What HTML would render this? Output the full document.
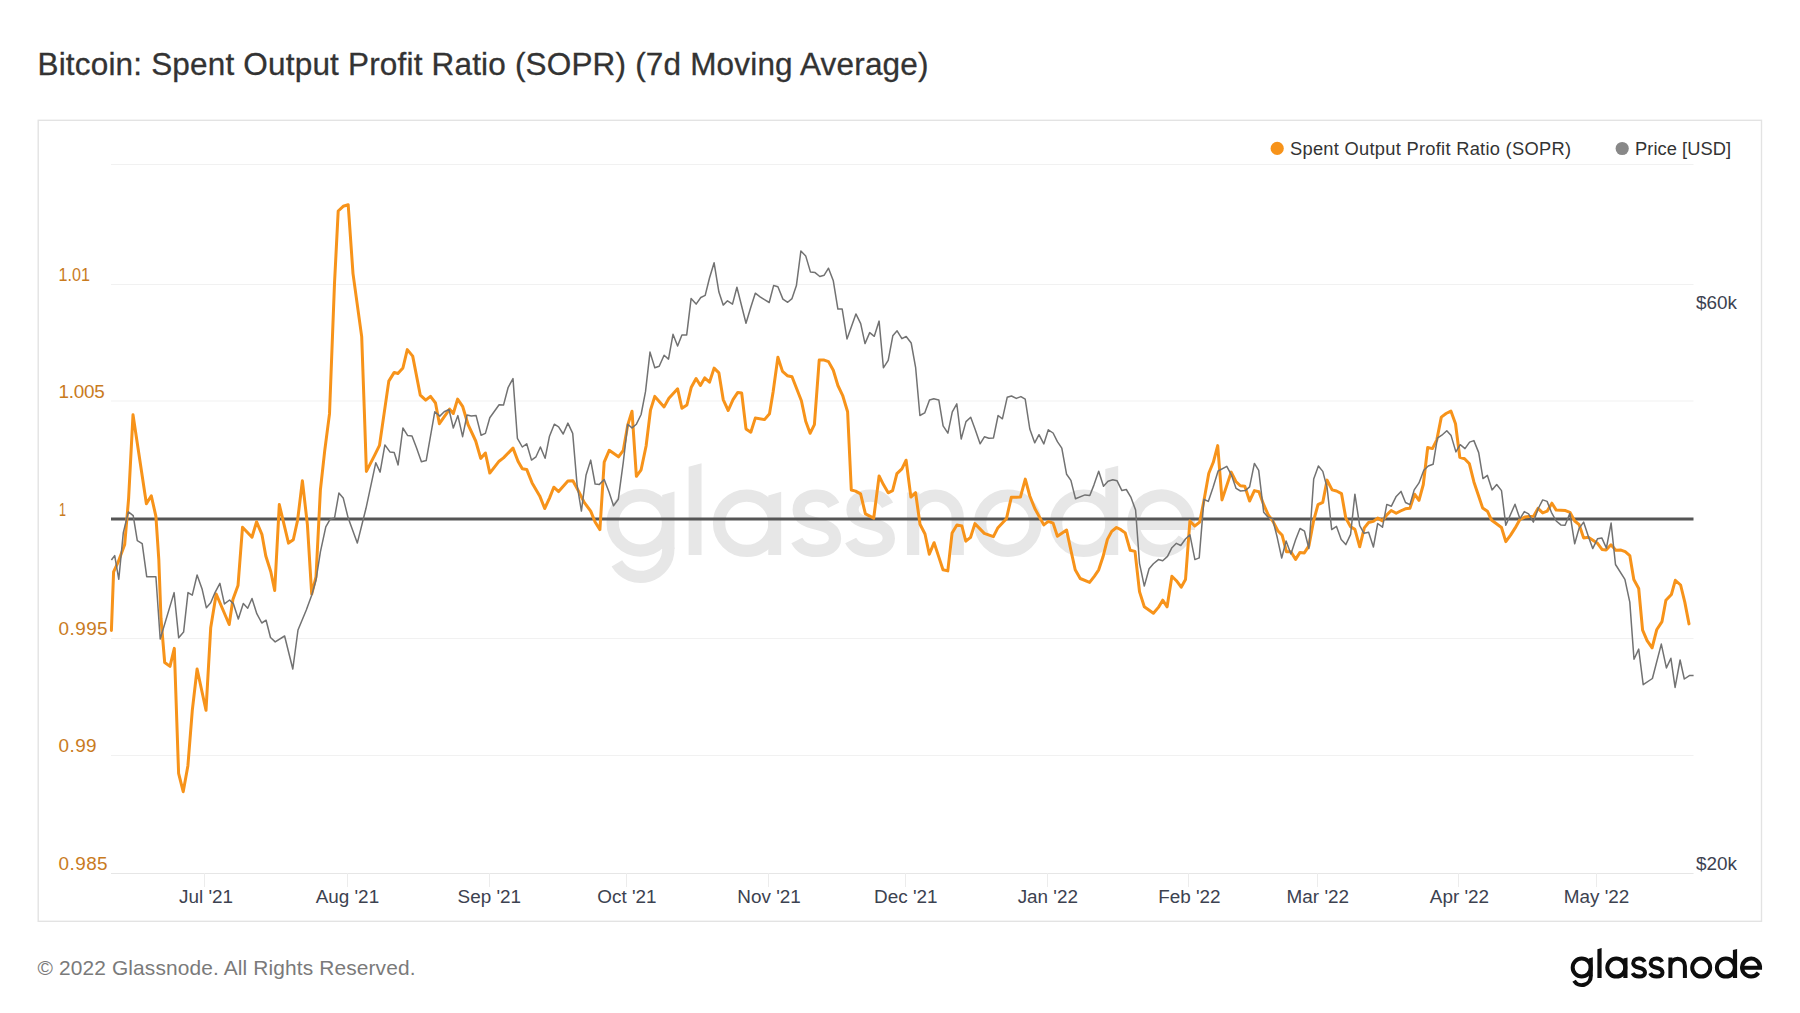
<!DOCTYPE html>
<html><head><meta charset="utf-8">
<style>
html,body{margin:0;padding:0;background:#fff;}
body{width:1800px;height:1013px;overflow:hidden;position:relative;font-family:"Liberation Sans",sans-serif;}
svg{position:absolute;left:0;top:0;}
text{font-family:"Liberation Sans",sans-serif;}
</style></head>
<body>
<svg width="1800" height="1013" viewBox="0 0 1800 1013">
<defs>
<g id="logoall"><g id="logo" fill="none" stroke="currentColor" stroke-width="4.0">
<circle cx="1581.7" cy="967.5" r="9"/>
<path d="M1590.8 975.5 L1590.8 975.9 A9 9 0 0 1 1574.07 980.67"/>
<circle cx="1616.3" cy="967.6" r="9"/>
<circle cx="1701.2" cy="967.6" r="9"/>
<circle cx="1725.9" cy="967.6" r="9"/>
<path d="M1644.6 961.8 C1643.5 959.6 1641.5 958.6 1639 958.6 C1635.6 958.6 1633.2 960.4 1633.2 963.2 C1633.2 966.2 1636 967 1639.2 967.8 C1642.6 968.6 1645 969.6 1645 972.6 C1645 975.2 1642.5 976.6 1639 976.6 C1636 976.6 1633.7 975.4 1632.6 973.2"/>
<path transform="translate(17.5 0)" d="M1644.6 961.8 C1643.5 959.6 1641.5 958.6 1639 958.6 C1635.6 958.6 1633.2 960.4 1633.2 963.2 C1633.2 966.2 1636 967 1639.2 967.8 C1642.6 968.6 1645 969.6 1645 972.6 C1645 975.2 1642.5 976.6 1639 976.6 C1636 976.6 1633.7 975.4 1632.6 973.2"/>
<path d="M1670.4 957.6 L1670.4 977.9 M1670.4 965.9 A7.25 7.25 0 0 1 1684.9 965.9 L1684.9 977.9"/>
<path d="M1742.1 967.8 L1762.05 967.8 M1760.05 967.7 A9 9 0 1 0 1758.42 972.76"/>
</g><g fill="currentColor"><path d="M1588.8 958.4 L1592.8 957.3 L1592.8 976 L1588.8 976 Z"/>
<path d="M1597.4 949.2 L1601.6 948.1 L1601.6 977.9 L1597.4 977.9 Z"/>
<path d="M1623.3 958.6 L1627.5 957.4 L1627.5 977.9 L1623.3 977.9 Z"/>
<path d="M1732.9 950 L1737.1 948.9 L1737.1 977.9 L1732.9 977.9 Z"/></g></g>
</defs>
<rect x="0" y="0" width="1800" height="1013" fill="#fff"/>
<text x="37.5" y="74.7" font-size="31.5" fill="#333" stroke="#333" stroke-width="0.3" textLength="891" lengthAdjust="spacing">Bitcoin: Spent Output Profit Ratio (SOPR) (7d Moving Average)</text>
<rect x="38.2" y="120.3" width="1723.3" height="801" fill="#fff" stroke="#e3e3e3" stroke-width="1.4"/>
<g stroke="#f1f1f1" stroke-width="1">
<line x1="111" y1="164.5" x2="1693.5" y2="164.5"/>
<line x1="111" y1="284.5" x2="1693.5" y2="284.5"/>
<line x1="111" y1="401" x2="1693.5" y2="401"/>
<line x1="111" y1="638.5" x2="1693.5" y2="638.5"/>
<line x1="111" y1="755.5" x2="1693.5" y2="755.5"/>
</g>
<line x1="111" y1="873.5" x2="1693.5" y2="873.5" stroke="#e6e6e6" stroke-width="1.2"/>
<g stroke="#ececec" stroke-width="1">
<line x1="204.5" y1="873" x2="204.5" y2="887"/>
<line x1="347.5" y1="873" x2="347.5" y2="887"/>
<line x1="489.5" y1="873" x2="489.5" y2="887"/>
<line x1="626.5" y1="873" x2="626.5" y2="887"/>
<line x1="768.5" y1="873" x2="768.5" y2="887"/>
<line x1="905.5" y1="873" x2="905.5" y2="887"/>
<line x1="1047.5" y1="873" x2="1047.5" y2="887"/>
<line x1="1188.5" y1="873" x2="1188.5" y2="887"/>
<line x1="1317.5" y1="873" x2="1317.5" y2="887"/>
<line x1="1458.5" y1="873" x2="1458.5" y2="887"/>
<line x1="1596.5" y1="873" x2="1596.5" y2="887"/>
</g>
<use href="#logoall" color="#e7e7e7" transform="translate(-4223.378 -2452.162) scale(3.075)"/>
<g font-size="18.9" fill="#c97b1e">
<text x="58.6" y="281" textLength="31.5" lengthAdjust="spacingAndGlyphs">1.01</text>
<text x="58.6" y="398" textLength="46.2" lengthAdjust="spacing">1.005</text>
<text x="59" y="515.9" textLength="7" lengthAdjust="spacingAndGlyphs">1</text>
<text x="58.6" y="635" textLength="49" lengthAdjust="spacing">0.995</text>
<text x="58.6" y="752" textLength="38" lengthAdjust="spacing">0.99</text>
<text x="58.6" y="870" textLength="49" lengthAdjust="spacing">0.985</text>
</g>
<g font-size="18.9" fill="#3c4250">
<text x="1696" y="309">$60k</text>
<text x="1696" y="870">$20k</text>
</g>
<g font-size="18.9" fill="#3c4250" text-anchor="middle">
<text x="206" y="903">Jul '21</text>
<text x="347.4" y="903">Aug '21</text>
<text x="489.3" y="903">Sep '21</text>
<text x="627" y="903">Oct '21</text>
<text x="769.1" y="903">Nov '21</text>
<text x="905.8" y="903">Dec '21</text>
<text x="1047.8" y="903">Jan '22</text>
<text x="1189.4" y="903">Feb '22</text>
<text x="1317.8" y="903">Mar '22</text>
<text x="1459.5" y="903">Apr '22</text>
<text x="1596.5" y="903">May '22</text>
</g>
<circle cx="1277.2" cy="148.4" r="6.6" fill="#f7931a"/>
<text x="1290" y="154.7" font-size="18.3" fill="#333" textLength="281" lengthAdjust="spacing">Spent Output Profit Ratio (SOPR)</text>
<circle cx="1622.2" cy="148.5" r="6.6" fill="#888"/>
<text x="1635" y="154.7" font-size="18.3" fill="#333" textLength="96" lengthAdjust="spacing">Price [USD]</text>
<line x1="111" y1="519" x2="1693.5" y2="519" stroke="#555" stroke-width="3"/>
<g id="lines">
<path d="M111.4 630.4 L113.6 571.9 L118.1 562.2 L124.7 544.4 L128.6 498.7 L133.0 414.8 L146.4 503.7 L151.3 495.8 L155.9 516.3 L158.8 559.3 L161.0 618.5 L164.7 662.5 L170.0 666.4 L174.3 648.4 L178.6 773.3 L183.2 791.7 L187.9 765.7 L192.3 710.3 L197.1 669.0 L206.0 710.3 L210.7 627.8 L216.2 594.0 L229.2 624.5 L232.9 599.5 L238.0 585.6 L242.5 527.3 L252.0 537.2 L256.6 521.8 L261.9 534.3 L265.8 556.0 L270.8 571.8 L274.7 590.5 L279.3 504.6 L288.5 543.1 L293.3 539.8 L297.6 520.3 L302.4 480.8 L307.4 524.6 L311.7 594.1 L316.0 576.8 L320.4 489.9 L324.7 450.8 L329.5 413.9 L334.5 283.4 L338.2 211.0 L343.2 206.3 L348.2 204.8 L353.0 273.6 L361.7 336.6 L364.3 410.0 L366.4 471.4 L374.7 455.1 L379.5 445.4 L388.8 381.1 L394.2 372.4 L397.9 373.5 L402.9 368.0 L407.3 349.6 L412.7 356.1 L420.3 395.2 L425.7 400.2 L430.5 396.3 L435.5 403.0 L439.4 423.7 L449.6 409.1 L453.3 413.5 L457.6 399.1 L462.6 406.3 L468.1 424.7 L475.7 441.0 L480.7 458.4 L485.4 453.0 L489.8 473.1 L499.1 461.2 L503.5 457.9 L513.0 448.1 L518.0 461.2 L522.3 468.8 L526.7 469.4 L532.1 482.9 L539.7 495.9 L544.7 508.5 L549.5 498.1 L553.8 487.2 L558.6 491.6 L567.9 481.1 L572.9 480.7 L578.8 491.6 L584.2 502.4 L590.7 511.1 L595.1 522.0 L599.9 529.6 L604.2 462.2 L609.2 450.3 L618.5 456.8 L623.3 450.3 L627.7 425.3 L632.0 411.2 L636.4 476.3 L641.1 469.8 L646.1 446.0 L650.5 410.1 L654.8 396.4 L664.1 406.9 L668.9 398.2 L677.6 388.8 L681.9 408.3 L686.9 405.0 L691.3 387.2 L696.1 378.5 L700.4 385.5 L704.7 377.9 L709.5 382.2 L714.1 368.1 L718.9 372.9 L723.2 399.6 L728.2 410.5 L733.0 399.6 L737.8 392.4 L741.7 393.1 L746.0 428.9 L750.8 432.2 L755.3 418.1 L764.5 419.6 L769.5 413.7 L773.1 392.0 L777.9 357.3 L782.5 371.4 L787.3 375.7 L792.0 376.8 L801.4 400.7 L805.7 421.3 L810.1 433.3 L814.4 424.6 L819.2 360.1 L824.2 360.1 L828.5 361.6 L833.3 370.3 L837.9 385.5 L842.6 395.3 L847.6 411.8 L851.3 490.0 L855.6 491.1 L860.6 493.9 L865.4 513.9 L873.7 518.2 L879.1 475.9 L883.4 484.6 L888.2 492.8 L892.6 490.7 L896.9 473.7 L901.9 468.9 L906.1 460.2 L910.9 497.1 L915.6 492.7 L920.0 524.2 L925.0 534.0 L929.3 554.2 L934.1 542.7 L939.1 557.9 L943.0 569.8 L947.8 570.9 L952.1 532.9 L956.9 524.9 L961.9 526.0 L965.8 541.2 L970.6 537.3 L974.9 523.6 L984.3 533.4 L993.4 536.6 L997.7 528.1 L1006.4 518.8 L1011.3 497.3 L1020.4 497.1 L1025.3 479.1 L1029.8 496.0 L1034.8 508.5 L1043.8 524.9 L1048.3 521.4 L1053.1 523.1 L1057.4 536.2 L1066.6 530.1 L1070.9 550.3 L1075.2 569.8 L1080.2 578.5 L1089.6 582.4 L1094.3 576.3 L1098.7 569.8 L1103.0 556.8 L1107.4 539.4 L1111.7 531.4 L1116.5 527.5 L1120.8 529.7 L1125.2 532.9 L1130.2 550.3 L1135.0 551.4 L1139.5 591.6 L1144.3 606.8 L1153.4 613.3 L1158.4 607.4 L1162.7 600.2 L1167.1 606.8 L1171.9 576.3 L1176.4 580.7 L1181.2 587.2 L1185.5 579.6 L1189.9 521.0 L1194.7 526.0 L1199.7 522.1 L1204.0 500.3 L1208.8 473.2 L1213.3 462.3 L1217.7 445.6 L1222.0 499.9 L1231.2 472.1 L1235.9 481.5 L1240.3 485.8 L1244.8 486.2 L1249.6 501.0 L1254.4 490.6 L1258.9 491.7 L1263.7 504.7 L1268.1 514.5 L1273.1 521.6 L1277.8 530.7 L1282.2 535.3 L1286.5 551.8 L1290.9 551.8 L1295.6 559.4 L1300.0 552.4 L1304.3 552.9 L1308.9 545.9 L1313.7 520.3 L1318.0 504.7 L1322.8 502.3 L1327.1 480.1 L1332.1 489.9 L1336.5 491.0 L1341.5 493.6 L1345.8 518.1 L1350.6 526.8 L1354.9 529.4 L1359.7 546.8 L1364.3 527.9 L1368.6 522.5 L1373.4 521.4 L1377.7 518.1 L1382.5 520.9 L1386.8 514.9 L1391.2 510.5 L1396.2 513.3 L1400.5 511.0 L1405.3 508.8 L1409.9 508.3 L1414.6 494.2 L1419.0 500.3 L1423.3 484.5 L1427.7 447.5 L1432.4 448.6 L1436.8 439.9 L1441.3 417.1 L1446.1 413.5 L1450.9 411.1 L1455.5 423.7 L1459.8 457.3 L1464.6 458.8 L1469.4 463.8 L1473.9 481.9 L1478.3 494.9 L1482.6 507.9 L1487.4 511.2 L1491.7 520.3 L1496.5 523.8 L1501.5 527.5 L1505.8 541.6 L1510.6 535.1 L1515.2 527.9 L1519.9 519.5 L1524.7 517.1 L1529.1 516.6 L1533.6 516.2 L1538.0 508.4 L1542.7 512.9 L1547.1 511.2 L1551.9 503.2 L1556.2 510.1 L1565.5 510.6 L1569.9 512.3 L1574.7 521.0 L1579.2 524.7 L1583.6 537.9 L1588.3 537.3 L1597.5 543.3 L1602.0 549.4 L1606.1 550.0 L1611.0 544.8 L1615.8 550.3 L1621.0 550.1 L1625.2 551.7 L1629.8 555.6 L1633.8 579.5 L1638.7 588.5 L1642.6 630.2 L1647.1 640.7 L1652.1 647.8 L1656.7 629.8 L1662.0 621.6 L1665.9 600.3 L1671.4 594.5 L1675.3 580.3 L1680.6 585.0 L1684.8 602.1 L1689.0 623.9" fill="none" stroke="#f7931a" stroke-width="3" stroke-linejoin="round" stroke-linecap="round"/>
<path d="M111.4 560.0 L114.7 555.6 L118.8 579.3 L123.3 532.6 L128.4 511.9 L133.2 515.6 L137.3 540.7 L142.2 543.7 L146.7 576.7 L155.9 576.7 L160.2 639.0 L174.1 592.6 L178.7 637.8 L183.6 632.1 L188.0 592.6 L192.3 595.2 L197.1 575.0 L202.0 588.7 L206.4 607.8 L210.7 602.8 L215.0 592.6 L219.9 583.3 L224.4 603.9 L229.6 600.0 L233.5 603.9 L238.3 619.1 L243.3 603.5 L247.7 608.2 L252.0 598.5 L256.8 613.7 L261.8 623.0 L266.1 620.2 L270.5 637.5 L275.2 641.9 L284.6 636.0 L292.8 669.0 L298.0 630.0 L306.3 610.0 L311.7 595.2 L316.0 580.0 L320.4 551.8 L325.8 526.8 L330.2 519.2 L334.5 518.1 L338.9 493.1 L343.2 497.9 L348.2 518.1 L357.3 543.1 L366.0 508.3 L375.8 462.7 L380.1 472.1 L384.9 444.9 L389.9 451.9 L394.2 452.5 L398.1 464.9 L402.9 428.0 L407.7 435.6 L412.0 436.0 L416.4 447.5 L421.4 461.7 L426.2 460.6 L434.8 411.7 L439.8 416.1 L444.2 411.7 L449.0 409.5 L453.3 428.0 L457.9 415.6 L462.6 436.7 L467.0 415.0 L471.3 416.1 L476.1 415.6 L481.1 435.2 L485.4 433.4 L489.8 417.7 L499.1 404.7 L503.5 405.1 L508.2 387.3 L513.0 378.6 L517.4 438.3 L522.3 447.0 L526.7 443.8 L531.5 460.1 L536.0 456.8 L540.4 447.0 L545.1 458.3 L549.5 436.2 L554.3 424.2 L558.6 426.8 L563.2 434.0 L567.9 423.1 L572.7 433.4 L577.1 485.0 L581.4 511.1 L586.0 475.3 L590.7 460.1 L595.1 484.0 L599.4 484.4 L604.2 479.6 L609.2 492.6 L613.5 505.7 L618.3 499.2 L623.3 462.2 L627.7 424.2 L632.0 427.9 L636.4 424.2 L641.1 414.5 L645.5 391.7 L650.0 352.1 L654.8 367.8 L659.2 366.3 L664.1 355.2 L668.5 359.1 L673.0 334.3 L677.6 346.0 L681.9 334.9 L686.7 334.9 L691.1 298.6 L696.1 304.1 L700.8 297.5 L705.2 295.4 L709.5 278.0 L714.1 262.8 L718.9 292.1 L723.2 305.1 L727.5 300.8 L732.5 304.1 L736.9 287.3 L741.7 306.2 L746.0 323.2 L750.8 307.3 L755.3 293.2 L760.1 296.9 L764.5 299.7 L769.2 302.5 L773.6 285.6 L777.9 286.7 L782.9 299.1 L787.7 302.3 L792.0 298.6 L796.4 285.6 L800.9 250.9 L805.7 255.9 L810.5 272.1 L815.1 272.6 L819.8 276.5 L824.2 275.2 L828.5 268.2 L833.3 280.8 L837.9 309.1 L842.2 309.1 L847.0 339.0 L851.3 326.9 L855.9 313.9 L860.7 323.6 L865.0 343.6 L869.7 332.6 L874.3 336.3 L879.1 321.1 L883.4 367.8 L888.2 360.4 L892.8 335.8 L897.1 330.8 L901.9 338.7 L906.2 336.5 L911.2 343.0 L915.6 367.3 L919.9 415.5 L924.7 412.9 L929.5 399.9 L933.8 398.8 L938.8 399.9 L943.1 425.9 L947.9 433.1 L952.3 411.8 L956.8 403.8 L961.2 439.0 L966.0 421.6 L970.7 417.3 L975.1 429.2 L980.1 443.8 L984.4 436.8 L988.8 438.3 L993.5 437.9 L998.1 415.5 L1002.4 418.8 L1007.2 397.3 L1011.5 396.0 L1016.3 398.4 L1020.9 396.6 L1025.2 399.2 L1029.8 429.0 L1034.7 442.8 L1039.0 434.7 L1043.8 443.9 L1048.3 429.8 L1053.1 433.0 L1057.4 441.7 L1061.8 448.2 L1066.6 474.3 L1070.9 480.4 L1075.5 498.8 L1085.0 494.9 L1089.8 495.5 L1093.9 485.1 L1098.7 471.2 L1103.5 486.2 L1108.0 481.2 L1112.8 479.7 L1117.1 480.8 L1121.9 490.6 L1126.3 489.5 L1130.8 497.1 L1135.6 510.1 L1139.5 563.3 L1144.3 586.1 L1149.1 568.8 L1153.4 563.8 L1158.4 559.6 L1162.7 560.7 L1167.5 556.4 L1171.9 547.7 L1176.4 543.3 L1180.8 545.5 L1185.5 539.0 L1189.9 534.7 L1194.9 559.6 L1199.2 557.9 L1204.0 499.3 L1208.3 501.4 L1213.1 487.3 L1218.1 471.0 L1226.8 466.3 L1231.6 475.4 L1236.1 488.4 L1240.5 491.0 L1245.3 490.6 L1249.6 486.9 L1254.4 463.4 L1258.7 470.4 L1263.7 512.3 L1268.1 517.3 L1272.4 518.4 L1277.2 537.3 L1281.7 558.0 L1286.1 541.0 L1290.9 554.0 L1295.6 539.8 L1300.0 528.5 L1304.5 531.2 L1308.9 548.5 L1313.7 479.0 L1318.4 466.0 L1322.8 471.4 L1327.1 487.7 L1331.7 529.6 L1336.5 526.4 L1341.2 539.4 L1345.8 544.6 L1350.6 534.4 L1354.9 494.2 L1359.7 525.7 L1364.0 533.3 L1368.6 532.2 L1373.4 547.0 L1377.7 523.5 L1382.5 527.2 L1386.8 504.4 L1391.4 506.2 L1396.2 496.4 L1401.0 491.4 L1405.5 502.5 L1409.9 504.7 L1414.2 489.9 L1419.0 482.9 L1423.8 470.3 L1428.3 466.0 L1433.1 464.3 L1437.4 438.2 L1441.8 435.2 L1446.8 430.8 L1451.1 435.6 L1455.9 451.9 L1460.2 444.7 L1465.0 448.6 L1469.6 442.1 L1473.9 440.6 L1478.7 452.6 L1483.0 478.6 L1487.4 475.4 L1492.1 489.9 L1496.7 484.5 L1501.5 490.6 L1505.8 525.3 L1515.0 504.3 L1519.9 518.8 L1524.3 511.6 L1528.6 513.8 L1533.4 522.1 L1538.0 509.0 L1542.7 499.9 L1547.1 501.4 L1551.4 512.3 L1556.2 521.0 L1560.8 524.9 L1565.1 525.3 L1569.9 513.4 L1574.7 543.8 L1579.0 528.6 L1583.6 522.1 L1588.3 536.2 L1592.7 548.6 L1597.5 538.8 L1601.8 537.9 L1606.4 548.1 L1611.1 523.1 L1615.5 564.5 L1624.9 579.4 L1629.8 602.1 L1634.0 659.2 L1638.7 649.1 L1643.2 684.7 L1652.4 678.5 L1661.3 644.1 L1666.4 667.9 L1670.9 658.3 L1675.1 687.4 L1680.1 660.0 L1684.3 679.0 L1689.4 675.6 L1693.6 675.6" fill="none" stroke="#727272" stroke-width="1.5" stroke-linejoin="round"/>
</g>
<text x="37.5" y="974.9" font-size="20.9" fill="#7a7a7a" textLength="378" lengthAdjust="spacing">© 2022 Glassnode. All Rights Reserved.</text>
<use href="#logoall" color="#0d0d0d"/>
</svg>
</body></html>
